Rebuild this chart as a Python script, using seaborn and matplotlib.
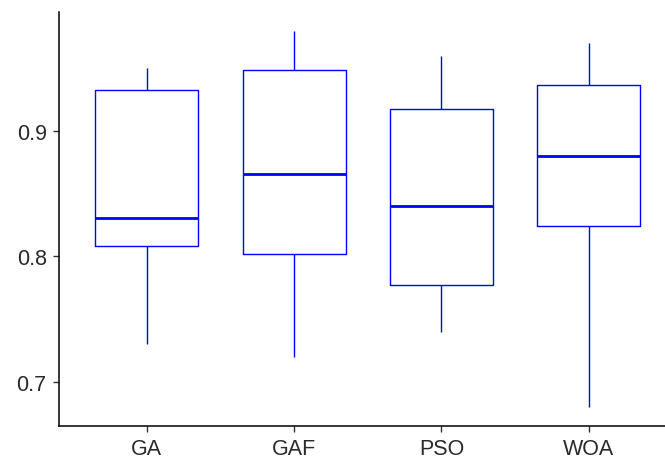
import matplotlib
matplotlib.use("Agg")
import matplotlib.pyplot as plt
import seaborn as sns
import pandas as pd

sns.set_theme(style="ticks")
plt.rcParams['font.family'] = ['Liberation Sans', 'DejaVu Sans']

# values (min, q1, median, q3, max per algorithm)
algorithms = ["GA", "GAF", "PSO", "WOA"]
ga = [0.730, 0.808, 0.831, 0.933, 0.950]
gaf = [0.720, 0.802, 0.866, 0.949, 0.980]
pso = [0.740, 0.777, 0.840, 0.918, 0.960]
woa = [0.680, 0.824, 0.880, 0.937, 0.970]
y_ticks = [0.7, 0.8, 0.9]

df = pd.DataFrame({
    "algorithm": [a for a, vals in zip(algorithms, [ga, gaf, pso, woa]) for _ in vals],
    "value": ga + gaf + pso + woa,
})

fig = plt.figure(figsize=(6.65, 4.6), dpi=100)
# axes runs a bit past the right edge, like the cropped original
ax = fig.add_axes([58.5 / 665, (460 - 426.7) / 460, (677 - 58.5) / 665, (426.7 - 13) / 460])

sns.boxplot(data=df, x="algorithm", y="value", order=algorithms, ax=ax,
            width=0.7, fill=False, color="#0000FF", linewidth=1.0,
            showcaps=False, medianprops=dict(linewidth=2.0))

ax.set_xlim(-0.6, 3.6)
ax.set_ylim(0.665, 0.995)
ax.set_yticks(y_ticks)
ax.set_yticklabels([str(t) for t in y_ticks])
ax.set_xlabel("")
ax.set_ylabel("")

for side in ["top", "right"]:
    ax.spines[side].set_visible(False)
for side in ["left", "bottom"]:
    ax.spines[side].set_color("black")
    ax.spines[side].set_linewidth(1.1)

ax.tick_params(axis="both", length=4.5, width=1.0, color="#333333",
               labelsize=15.5, labelcolor="#2a2a2a", pad=4)

fig.savefig("out.png", dpi=100)
